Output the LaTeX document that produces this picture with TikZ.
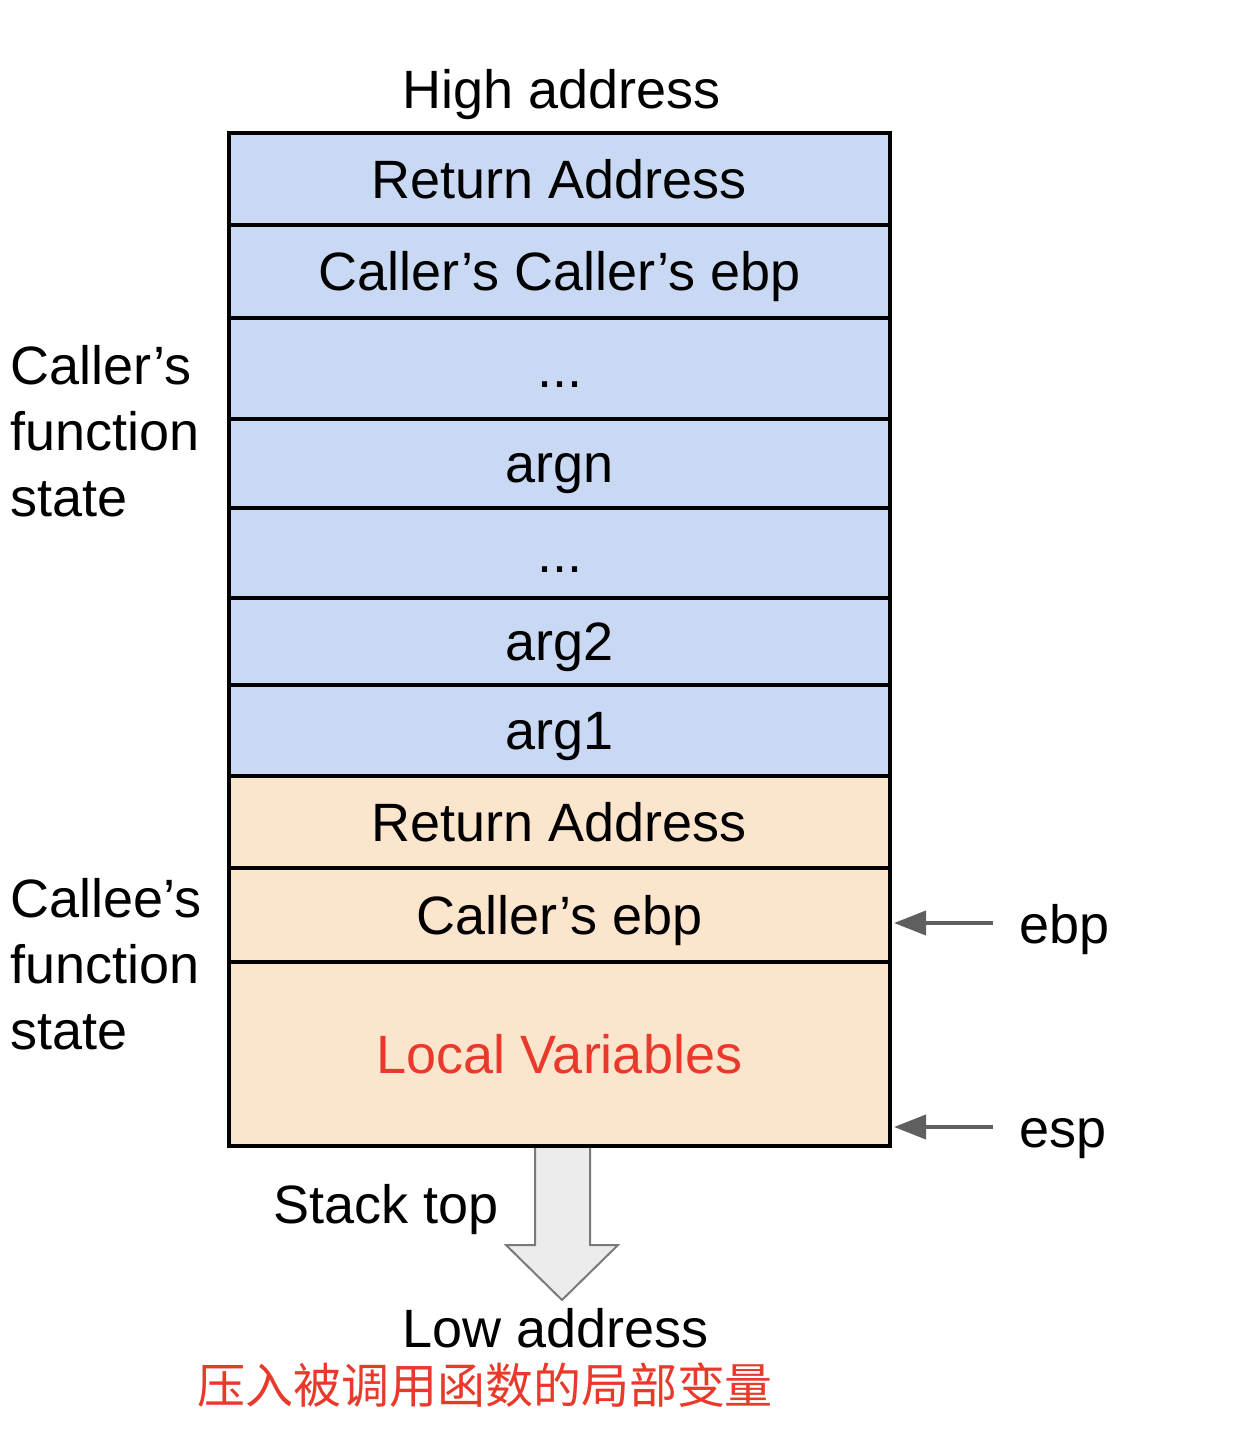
\documentclass[tikz,border=0pt]{standalone}
\usepackage{fontspec}
\setmainfont{Liberation Sans}
\newfontfamily\cjk{Noto Sans CJK SC}
\usetikzlibrary{arrows.meta,calc}
\definecolor{cblue}{HTML}{C9D9F4}
\definecolor{corange}{HTML}{FCE5CD}
\definecolor{cred}{HTML}{E8392B}
\definecolor{cgray}{HTML}{5F5F5F}
\definecolor{afill}{HTML}{ECECEC}
\definecolor{aline}{HTML}{7A7A7A}
\tikzset{
  every node/.style={font=\fontsize{27}{33}\selectfont},
  cell/.style={draw=black, line width=2pt, inner sep=0pt, minimum width=330.5pt,
     text height=19.3pt, text depth=0pt},
  bluecell/.style={cell, fill=cblue},
  orcell/.style={cell, fill=corange},
  ptr/.style={draw=cgray, line width=2pt, -{Triangle[length=16pt,width=12pt]}},
  lbl/.style={inner sep=0pt},
}
\begin{document}
\begin{tikzpicture}[x=0.5pt,y=-0.5pt]
\useasboundingbox (0,0) rectangle (1246,1430);
% big arrow (stack growth)
\draw[fill=afill, draw=aline, line width=1pt]
  (535,1146) -- (535,1245) -- (506,1245) -- (562,1300) -- (618,1245) -- (590,1245) -- (590,1146) -- cycle;
% cells
\node[bluecell, minimum height=46pt] (c1) at (559.5,179) {Return Address};
\node[bluecell, minimum height=46.5pt] (c2) at (559.5,271.5) {Caller’s Caller’s ebp};
\node[bluecell, minimum height=50.5pt] (c3) at (559.5,368.5) {...};
\node[bluecell, minimum height=44.5pt] (c4) at (559.5,463.5) {argn};
\node[bluecell, minimum height=45pt] (c5) at (559.5,553) {...};
\node[bluecell, minimum height=43.5pt] (c6) at (559.5,641.5) {arg2};
\node[bluecell, minimum height=45.5pt] (c7) at (559.5,730.5) {arg1};
\node[orcell, minimum height=46pt] (c8) at (559.5,822) {Return Address};
\node[orcell, minimum height=47pt] (c9) at (559.5,915) {Caller’s ebp};
\node[orcell, minimum height=92pt, text=cred] (c10) at (559.5,1054) {Local Variables};
% labels
\node[lbl, anchor=base] (high) at (562,108) {High address};
\node[lbl, anchor=west, align=left] (callerst) at (10,431) {Caller’s\\function\\state};
\node[lbl, anchor=west, align=left] (calleest) at (10,964) {Callee’s\\function\\state};
\node[lbl, anchor=base west] (ebpl) at (1019,943) {ebp};
\node[lbl, anchor=base west] (espl) at (1019,1147) {esp};
\node[lbl, anchor=base] (stop) at (386,1223) {Stack top};
\node[lbl, anchor=base] (low) at (556,1347) {Low address};
\node[lbl, text=cred, font=\cjk\fontsize{24}{28}\selectfont] (cn) at (485,1385) {压入被调用函数的局部变量};
% pointers
\draw[ptr] ($(ebpl.base west)+(-26,-20)$) -- ($(c9.east |- ebpl.base west)+(2,-20)$);
\draw[ptr] ($(espl.base west)+(-26,-20)$) -- ($(c10.east |- espl.base west)+(2,-20)$);
\end{tikzpicture}
\end{document}
